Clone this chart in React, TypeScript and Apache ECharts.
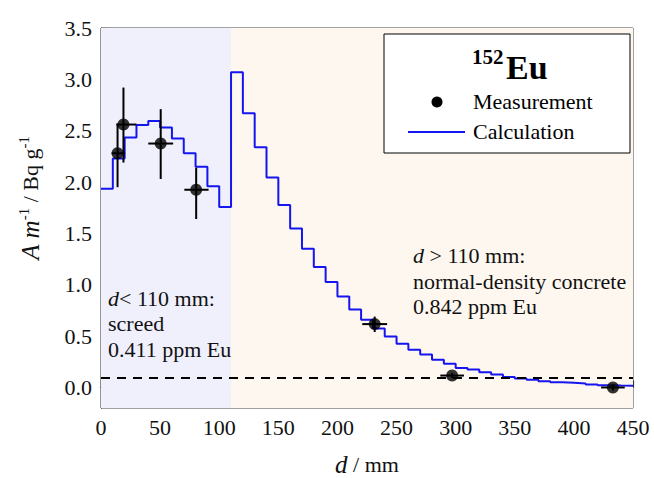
import React, { useEffect, useRef } from "react";
import * as echarts from "echarts";

// ---- data ----
const binStarts = [0, 10, 20, 30, 40, 50, 60, 70, 80, 90, 100, 110, 120, 130, 140, 150, 160, 170, 180, 190, 200, 210, 220, 230, 240, 250, 260, 270, 280, 290, 300, 310, 320, 330, 340, 350, 360, 370, 380, 390, 400, 410, 420, 430, 440];
const calcValues = [1.935, 2.23, 2.435, 2.555, 2.594, 2.532, 2.425, 2.28, 2.15, 1.96, 1.757, 3.07, 2.67, 2.34, 2.045, 1.776, 1.547, 1.35, 1.172, 1.027, 0.885, 0.759, 0.659, 0.575, 0.497, 0.426, 0.368, 0.32, 0.271, 0.232, 0.19, 0.174, 0.148, 0.126, 0.103, 0.087, 0.074, 0.061, 0.051, 0.045, 0.039, 0.029, 0.022, 0.019, 0.017];
const lastBinEnd = 450;

const measD = [14, 19, 50.5, 80.5, 231.5, 297, 433];
const measA = [2.28, 2.56, 2.375, 1.925, 0.617, 0.116, 0.0];
const measDLow = [9, 13, 40, 70.5, 221, 287, 423];
const measDHigh = [20, 30, 61, 91, 242, 307, 443];
const measALow = [1.95, 2.19, 2.03, 1.64, 0.54, 0.09, -0.03];
const measAHigh = [2.57, 2.92, 2.71, 2.14, 0.69, 0.14, 0.03];

const yMajorTicks = [0, 0.5, 1.0, 1.5, 2.0, 2.5, 3.0, 3.5];
const yMinorTicks = [0.25, 0.75, 1.25, 1.75, 2.25, 2.75, 3.25];
const detectionLimit = 0.085;
const boundaryD = 110;

const FONT = "Liberation Serif";

export default function App() {
  const ref = useRef<HTMLDivElement>(null);

  useEffect(() => {
    if (!ref.current) return;
    const chart = echarts.init(ref.current, undefined, { renderer: "svg" });

    const stepData = binStarts.map((d, i) => [d, calcValues[i]]);
    stepData.push([lastBinEnd, calcValues[calcValues.length - 1]]);

    const scatterData = measD.map((d, i) => [d, measA[i]]);
    const errData = measD.map((d, i) => [d, measA[i], measDLow[i], measDHigh[i], measALow[i], measAHigh[i]]);

    const txt = (extra: any) => ({ fontFamily: FONT, fontSize: 22, fill: "#111", ...extra });

    const option: any = {
      animation: false,
      backgroundColor: "#ffffff",
      grid: {
        left: 101,
        right: 21,
        top: 28,
        bottom: 70,
        show: true,
        borderColor: "#444",
        borderWidth: 1,
        backgroundColor: "transparent",
      },
      xAxis: {
        type: "value",
        min: 0,
        max: 450,
        interval: 50,
        axisLine: { show: true, lineStyle: { color: "#333", width: 1.2 } },
        axisTick: { show: true, inside: true, length: 7, lineStyle: { color: "#333", width: 1.2 } },
        minorTick: { show: true, splitNumber: 2, length: 5, lineStyle: { color: "#333", width: 1.2 } },
        axisLabel: { fontFamily: FONT, fontSize: 22, color: "#111", margin: 8 },
        splitLine: { show: false },
      },
      yAxis: [
        {
          type: "value",
          min: -0.2,
          max: 3.5,
          position: "left",
          axisLine: { show: true, lineStyle: { color: "#333", width: 1.2 } },
          axisTick: { show: true, inside: true, length: 8, customValues: yMajorTicks, lineStyle: { color: "#333", width: 1.2 } },
          axisLabel: {
            fontFamily: FONT,
            fontSize: 22,
            color: "#111",
            margin: 9,
            customValues: yMajorTicks,
            formatter: (v: number) => v.toFixed(1),
          },
          splitLine: { show: false },
        },
        {
          type: "value",
          min: -0.2,
          max: 3.5,
          position: "left",
          axisLine: { show: false },
          axisTick: { show: true, inside: true, length: 5, customValues: yMinorTicks, lineStyle: { color: "#333", width: 1.2 } },
          axisLabel: { show: false, customValues: yMinorTicks },
          splitLine: { show: false },
        },
      ],
      series: [
        {
          name: "Calculation",
          type: "line",
          step: "end",
          data: stepData,
          symbol: "none",
          lineStyle: { color: "#1515f0", width: 2 },
          z: 2,
          markArea: {
            silent: true,
            data: [
              [{ xAxis: 0, itemStyle: { color: "#f0f0fc" } }, { xAxis: boundaryD }],
              [{ xAxis: boundaryD, itemStyle: { color: "#fef7f0" } }, { xAxis: 450 }],
            ],
          },
          markLine: {
            silent: true,
            symbol: "none",
            label: { show: false },
            lineStyle: { color: "#000", type: [9, 7], width: 2 },
            data: [{ yAxis: detectionLimit }],
          },
        },
        {
          name: "errors",
          type: "custom",
          z: 3,
          data: errData,
          renderItem: (params: any, api: any) => {
            const x = api.value(0);
            const y = api.value(1);
            const a = api.coord([api.value(2), y]);
            const b = api.coord([api.value(3), y]);
            const c = api.coord([x, api.value(4)]);
            const d = api.coord([x, api.value(5)]);
            return {
              type: "group",
              children: [
                { type: "line", shape: { x1: a[0], y1: a[1], x2: b[0], y2: b[1] }, style: { stroke: "#000", lineWidth: 2 } },
                { type: "line", shape: { x1: c[0], y1: c[1], x2: d[0], y2: d[1] }, style: { stroke: "#000", lineWidth: 2 } },
              ],
            };
          },
        },
        {
          name: "Measurement",
          type: "scatter",
          data: scatterData,
          symbol: "circle",
          symbolSize: 12,
          itemStyle: { color: "#000" },
          z: 4,
        },
      ],
      graphic: [
        // legend box
        {
          type: "rect",
          shape: { x: 384, y: 34, width: 246, height: 119 },
          style: { fill: "#fff", stroke: "#000", lineWidth: 1 },
          z: 10,
        },
        {
          type: "text",
          x: 472,
          y: 57,
          style: txt({ text: "152", fontSize: 21, fontWeight: "bold", fill: "#000", textVerticalAlign: "middle" }),
          z: 11,
        },
        {
          type: "text",
          x: 506,
          y: 67,
          style: txt({ text: "Eu", fontSize: 34, fontWeight: "bold", fill: "#000", textVerticalAlign: "middle" }),
          z: 11,
        },
        {
          type: "circle",
          shape: { cx: 437, cy: 102, r: 5.5 },
          style: { fill: "#000" },
          z: 11,
        },
        {
          type: "text",
          x: 473,
          y: 101,
          style: txt({ text: "Measurement", fill: "#000", textVerticalAlign: "middle" }),
          z: 11,
        },
        {
          type: "line",
          shape: { x1: 408, y1: 132, x2: 465, y2: 132 },
          style: { stroke: "#1515f0", lineWidth: 2 },
          z: 11,
        },
        {
          type: "text",
          x: 473,
          y: 131,
          style: txt({ text: "Calculation", fill: "#000", textVerticalAlign: "middle" }),
          z: 11,
        },
        // annotations left
        {
          type: "text",
          x: 108,
          y: 298,
          style: {
            text: "{i|d}{n|< 110 mm:}",
            textVerticalAlign: "middle",
            rich: {
              i: txt({ fontStyle: "italic" }),
              n: txt({}),
            },
          },
          z: 5,
        },
        {
          type: "text",
          x: 108,
          y: 323,
          style: txt({ text: "screed", textVerticalAlign: "middle" }),
          z: 5,
        },
        {
          type: "text",
          x: 108,
          y: 349,
          style: txt({ text: "0.411 ppm Eu", textVerticalAlign: "middle" }),
          z: 5,
        },
        // annotations right
        {
          type: "text",
          x: 413,
          y: 255,
          style: {
            text: "{i|d}{n| > 110 mm:}",
            textVerticalAlign: "middle",
            rich: {
              i: txt({ fontStyle: "italic" }),
              n: txt({}),
            },
          },
          z: 5,
        },
        {
          type: "text",
          x: 413,
          y: 281,
          style: txt({ text: "normal-density concrete", textVerticalAlign: "middle" }),
          z: 5,
        },
        {
          type: "text",
          x: 413,
          y: 306,
          style: txt({ text: "0.842 ppm Eu", textVerticalAlign: "middle" }),
          z: 5,
        },
        // x axis title
        {
          type: "text",
          x: 367,
          y: 464,
          style: {
            text: "{i|d}{n| / mm}",
            textAlign: "center",
            textVerticalAlign: "middle",
            rich: {
              i: txt({ fontStyle: "italic", fontSize: 25 }),
              n: txt({}),
            },
          },
        },
        // y axis title
        {
          type: "text",
          x: 30,
          y: 198,
          rotation: Math.PI / 2,
          style: {
            text: "{i|A m}{s|-1}{n| / Bq g}{s|-1}",
            textAlign: "center",
            textVerticalAlign: "middle",
            rich: {
              i: txt({ fontStyle: "italic", fontSize: 25, lineHeight: 28 }),
              n: txt({ lineHeight: 28 }),
              s: txt({ fontSize: 15, verticalAlign: "top", lineHeight: 15 }),
            },
          },
        },
      ],
    };

    chart.setOption(option);
    return () => chart.dispose();
  }, []);

  return <div ref={ref} style={{ width: 654, height: 478, position: "absolute", left: 0, top: 0 }} />;
}
